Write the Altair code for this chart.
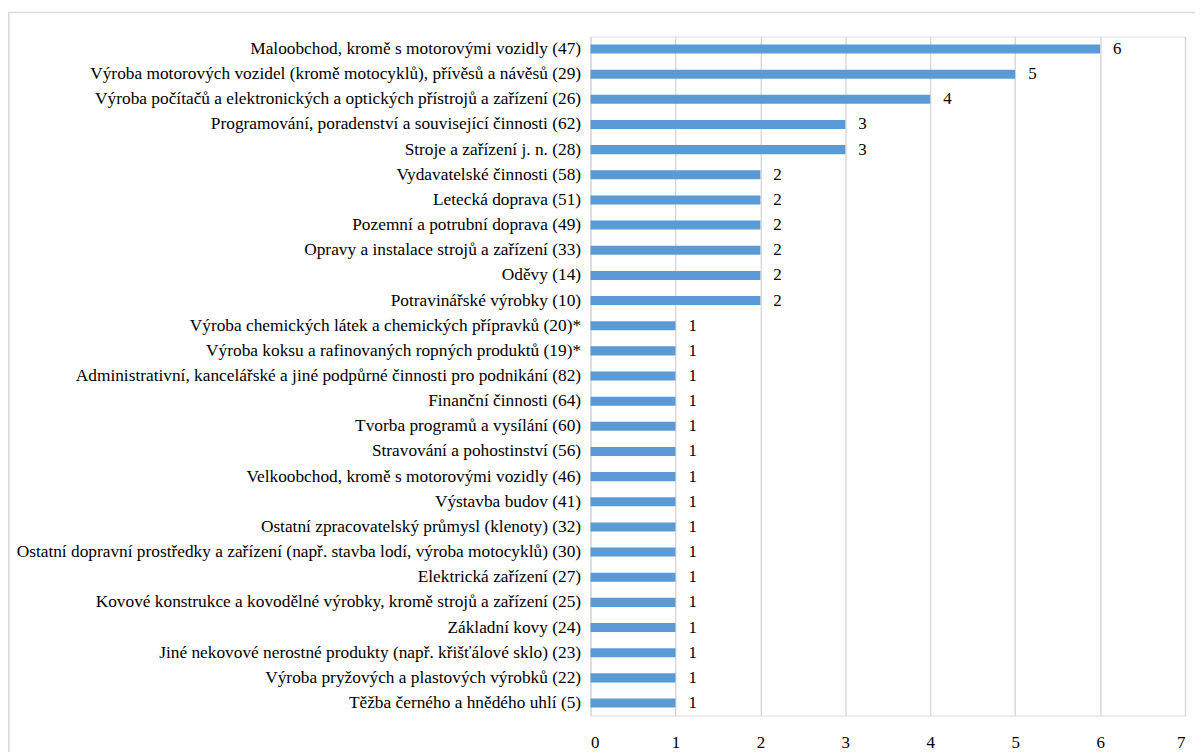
import altair as alt
import pandas as pd

categories = [
    "Maloobchod, kromě s motorovými vozidly (47)",
    "Výroba motorových vozidel (kromě motocyklů), přívěsů a návěsů (29)",
    "Výroba počítačů a elektronických a optických přístrojů a zařízení (26)",
    "Programování, poradenství a související činnosti (62)",
    "Stroje a zařízení j. n. (28)",
    "Vydavatelské činnosti (58)",
    "Letecká doprava (51)",
    "Pozemní a potrubní doprava (49)",
    "Opravy a instalace strojů a zařízení (33)",
    "Oděvy (14)",
    "Potravinářské výrobky (10)",
    "Výroba chemických látek a chemických přípravků (20)*",
    "Výroba koksu a rafinovaných ropných produktů (19)*",
    "Administrativní, kancelářské a jiné podpůrné činnosti pro podnikání (82)",
    "Finanční činnosti (64)",
    "Tvorba programů a vysílání (60)",
    "Stravování a pohostinství (56)",
    "Velkoobchod, kromě s motorovými vozidly (46)",
    "Výstavba budov (41)",
    "Ostatní zpracovatelský průmysl (klenoty) (32)",
    "Ostatní dopravní prostředky a zařízení (např. stavba lodí, výroba motocyklů) (30)",
    "Elektrická zařízení (27)",
    "Kovové konstrukce a kovodělné výrobky, kromě strojů a zařízení (25)",
    "Základní kovy (24)",
    "Jiné nekovové nerostné produkty (např. křišťálové sklo) (23)",
    "Výroba pryžových a plastových výrobků (22)",
    "Těžba černého a hnědého uhlí (5)",
]
values = [6, 5, 4, 3, 3, 2, 2, 2, 2, 2, 2, 1, 1, 1, 1, 1, 1, 1, 1, 1, 1, 1, 1, 1, 1, 1, 1]
x_ticks = [0, 1, 2, 3, 4, 5, 6, 7]

df = pd.DataFrame({"cat": categories, "val": values})

FONT = "Liberation Serif"

y_enc = alt.Y("cat:N", sort=categories, title=None,
              scale=alt.Scale(paddingInner=0.64, paddingOuter=0.32),
              axis=alt.Axis(ticks=False, domain=False, labelPadding=10,
                            labelFontSize=17.4, labelFont=FONT, labelColor="#000000",
                            labelLimit=800))
x_enc = alt.X("val:Q", title=None,
              scale=alt.Scale(domain=[0, 7], nice=False),
              axis=alt.Axis(values=x_ticks, ticks=False, domain=False, grid=True,
                            gridColor="#D9D9D9", gridWidth=1.5, labelPadding=19,
                            labelFontSize=17, labelFont=FONT, labelColor="#000000",
                            format="d"))

bars = alt.Chart(df).mark_bar(color="#5B9BD5").encode(x=x_enc, y=y_enc)
labels = alt.Chart(df).mark_text(align="left", baseline="middle", dx=13,
                                 font=FONT, fontSize=17, color="#000000").encode(
    x=alt.X("val:Q"), y=alt.Y("cat:N", sort=categories), text=alt.Text("val:Q"))

# outer chart frame (decoration)
frame_top = alt.Chart(df.head(1)).mark_rule(color="#D9D9D9", strokeWidth=1.5).encode(
    x=alt.value(-585), x2=alt.value(700), y=alt.value(-24))
frame_left = alt.Chart(df.head(1)).mark_rule(color="#D9D9D9", strokeWidth=2).encode(
    x=alt.value(-584.5), y=alt.value(-24), y2=alt.value(760))

chart = (bars + labels + frame_top + frame_left).properties(
    width=597, height=682,
    autosize=alt.AutoSizeParams(type="none"),
    padding={"left": 585, "top": 27, "right": 10, "bottom": 35},
).configure_view(stroke=None).configure(background="#FFFFFF")

chart.save("out.html", embed_options={"renderer": "svg", "actions": False})
